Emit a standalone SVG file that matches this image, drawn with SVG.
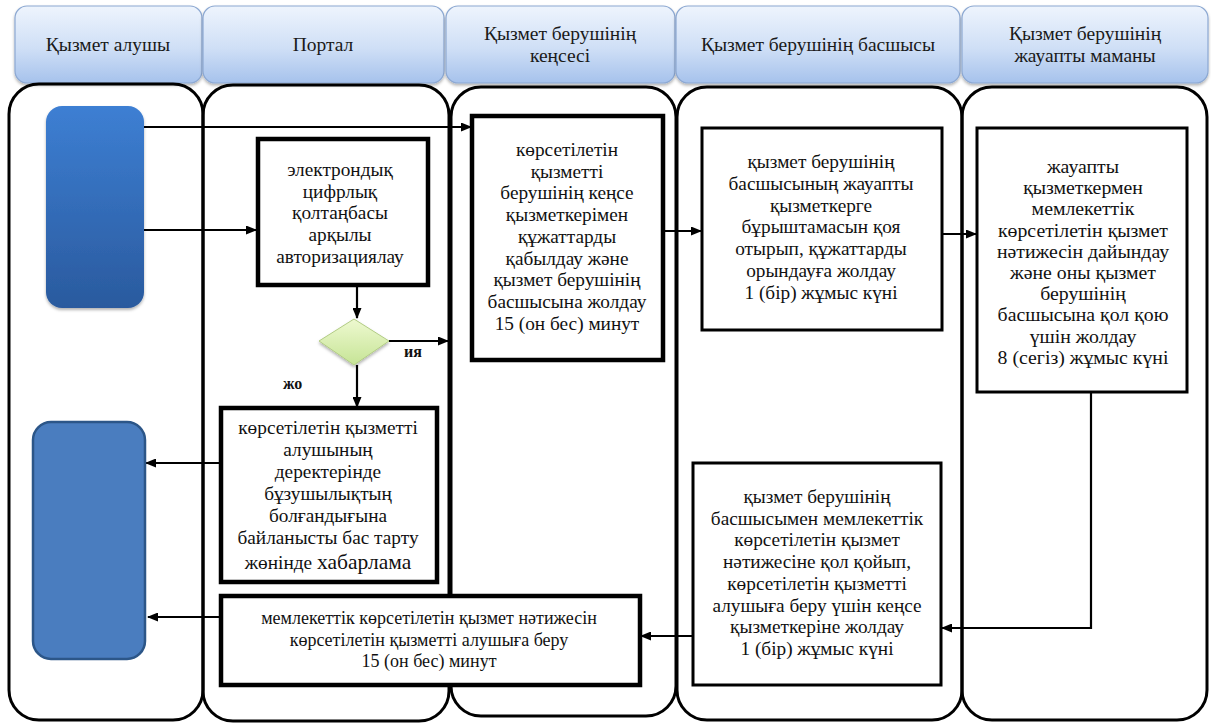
<svg xmlns="http://www.w3.org/2000/svg" width="1211" height="723" viewBox="0 0 1211 723">
<defs>
<linearGradient id="hdr" x1="0" y1="0" x2="0" y2="1">
<stop offset="0" stop-color="#eef4fd"/>
<stop offset="0.55" stop-color="#cfdff6"/>
<stop offset="1" stop-color="#a6c2ec"/>
</linearGradient>
<linearGradient id="blue1" x1="0" y1="0" x2="0" y2="1">
<stop offset="0" stop-color="#3d7fd3"/>
<stop offset="1" stop-color="#2a5a9e"/>
</linearGradient>
<linearGradient id="dia" x1="0" y1="0" x2="0" y2="1">
<stop offset="0" stop-color="#eef9d0"/>
<stop offset="1" stop-color="#c6e496"/>
</linearGradient>
<filter id="sh" x="-10%" y="-10%" width="120%" height="130%">
<feDropShadow dx="0" dy="2" stdDeviation="1.5" flood-color="#000" flood-opacity="0.3"/>
</filter>
<marker id="arr" markerUnits="userSpaceOnUse" markerWidth="11" markerHeight="9" refX="10" refY="4.5" orient="auto">
<path d="M0,0 L11,4.5 L0,9 z" fill="#000"/>
</marker>
</defs>
<style>
.hdr{fill:url(#hdr);stroke:#8ca8d2;stroke-width:1.2;filter:url(#sh)}
.ht{font-family:'Liberation Serif','Times New Roman',serif;font-size:19.5px;fill:#1a1a1a;text-anchor:middle}
.lane{fill:none;stroke:#000;stroke-width:3}
.bx{fill:#fff;stroke:#000;stroke-width:4.5}
.bt{fill:#fff;stroke:#000;stroke-width:3}
.t{font-family:'Liberation Serif','Times New Roman',serif;font-size:19.3px;fill:#111;text-anchor:middle}
.t5{font-size:19.8px}
.t7{font-size:18px}
.lbl{font-family:'Liberation Serif','Times New Roman',serif;font-size:16px;font-weight:bold;fill:#111}
.ca{fill:none;stroke:#000;stroke-width:2.2;marker-end:url(#arr)}
</style>

<g id="headers">
<g id="h1"><rect class="hdr" x="15" y="6" width="187" height="77" rx="12"/><text class="ht" x="108" y="51">Қызмет алушы</text></g>
<g id="h2"><rect class="hdr" x="203" y="6" width="241" height="77" rx="12"/><text class="ht" x="323" y="51">Портал</text></g>
<g id="h3"><rect class="hdr" x="446" y="6" width="229" height="77" rx="12"/><text class="ht" x="560" y="40">Қызмет берушінің</text><text class="ht" x="560" y="62">кеңсесі</text></g>
<g id="h4"><rect class="hdr" x="676" y="6" width="284" height="77" rx="12"/><text class="ht" x="818" y="51">Қызмет берушінің басшысы</text></g>
<g id="h5"><rect class="hdr" x="962" y="6" width="246" height="77" rx="12"/><text class="ht" x="1085" y="40">Қызмет берушінің</text><text class="ht" x="1085" y="62">жауапты маманы</text></g>
</g>

<g id="lanes">
<rect class="lane" x="9" y="84" width="194" height="636" rx="30"/>
<rect class="lane" x="203" y="85" width="246" height="636" rx="30"/>
<rect class="lane" x="451" y="87" width="225" height="629" rx="30"/>
<rect class="lane" x="677" y="87" width="285" height="633" rx="30"/>
<rect class="lane" x="962" y="87" width="245" height="633" rx="30"/>
</g>

<g id="connectors">
<path class="ca" d="M144,127 H471"/>
<path class="ca" d="M144,230 H256"/>
<path class="ca" d="M357,285 V318"/>
<path class="ca" d="M389,341 H448"/>
<path class="ca" d="M357,365 V407"/>
<path class="ca" d="M220,463 H146"/>
<path class="ca" d="M220,617 H148"/>
<path class="ca" d="M663,231 H701"/>
<path class="ca" d="M942,234 H976"/>
<path class="ca" d="M1091,392 V628 H942"/>
<path class="ca" d="M693,636 H641"/>
</g>

<g id="start"><rect x="46" y="106" width="98" height="202" rx="16" fill="url(#blue1)" filter="url(#sh)"/></g>
<g id="end"><rect x="33" y="422" width="112" height="237" rx="18" fill="#4a7dbf" stroke="#2c5688" stroke-width="2.5"/></g>

<g id="auth">
<rect class="bx" x="258" y="139" width="170" height="146"/>
<text class="t" x="340" y="176">электрондық</text>
<text class="t" x="340" y="197.7">цифрлық</text>
<text class="t" x="340" y="219.4">қолтаңбасы</text>
<text class="t" x="340" y="241.1">арқылы</text>
<text class="t" x="340" y="262.8">авторизациялау</text>
</g>

<g id="decision">
<polygon points="354,319 389,341 354,365 319,341" fill="url(#dia)" stroke="#b2cc84" stroke-width="1" filter="url(#sh)"/>
<text class="lbl" x="404" y="357">ия</text>
<text class="lbl" x="283" y="389">жо</text>
</g>

<g id="refuse">
<rect class="bx" x="221" y="408" width="216" height="174"/>
<text class="t" x="328" y="434">көрсетілетін қызметті</text>
<text class="t" x="328" y="456">алушының</text>
<text class="t" x="328" y="478">деректерінде</text>
<text class="t" x="328" y="500">бұзушылықтың</text>
<text class="t" x="328" y="522">болғандығына</text>
<text class="t" x="328" y="544">байланысты бас тарту</text>
<text class="t" x="328" y="569">жөнінде <tspan font-size="21.5">хабарлама</tspan></text>
</g>

<g id="office">
<rect class="bx" x="472" y="116" width="191" height="244"/>
<text class="t" x="567" y="156">көрсетілетін</text>
<text class="t" x="567" y="177.7">қызметті</text>
<text class="t" x="567" y="199.4">берушінің кеңсе</text>
<text class="t" x="567" y="221.1">қызметкерімен</text>
<text class="t" x="567" y="242.8">құжаттарды</text>
<text class="t" x="567" y="264.5">қабылдау және</text>
<text class="t" x="567" y="286.2">қызмет берушінің</text>
<text class="t" x="567" y="307.9">басшысына жолдау</text>
<text class="t" x="567" y="329.6">15 (он бес) минут</text>
</g>

<g id="head">
<rect class="bt" x="702" y="128" width="240" height="202"/>
<text class="t" x="821" y="168">қызмет берушінің</text>
<text class="t" x="821" y="189.8">басшысының жауапты</text>
<text class="t" x="821" y="211.6">қызметкерге</text>
<text class="t" x="821" y="233.4">бұрыштамасын қоя</text>
<text class="t" x="821" y="255.2">отырып, құжаттарды</text>
<text class="t" x="821" y="277">орындауға жолдау</text>
<text class="t" x="821" y="298.8">1 (бір) жұмыс күні</text>
</g>

<g id="specialist">
<rect class="bt" x="977" y="128" width="210" height="264"/>
<text class="t t5" x="1083" y="173">жауапты</text>
<text class="t t5" x="1083" y="194.2">қызметкермен</text>
<text class="t t5" x="1083" y="215.4">мемлекеттік</text>
<text class="t t5" x="1083" y="236.6">көрсетілетін қызмет</text>
<text class="t t5" x="1083" y="257.8">нәтижесін дайындау</text>
<text class="t t5" x="1083" y="279">және оны қызмет</text>
<text class="t t5" x="1083" y="300.2">берушінің</text>
<text class="t t5" x="1083" y="321.4">басшысына қол қою</text>
<text class="t t5" x="1083" y="342.6">үшін жолдау</text>
<text class="t t5" x="1083" y="363.8">8 (сегіз) жұмыс күні</text>
</g>

<g id="sign">
<rect class="bt" x="693" y="463" width="248" height="222"/>
<text class="t" x="817" y="503">қызмет берушінің</text>
<text class="t" x="817" y="524.7">басшысымен мемлекеттік</text>
<text class="t" x="817" y="546.4">көрсетілетін қызмет</text>
<text class="t" x="817" y="568.1">нәтижесіне қол қойып,</text>
<text class="t" x="817" y="589.8">көрсетілетін қызметті</text>
<text class="t" x="817" y="611.5">алушыға беру үшін кеңсе</text>
<text class="t" x="817" y="633.2">қызметкеріне жолдау</text>
<text class="t" x="817" y="654.9">1 (бір) жұмыс күні</text>
</g>

<g id="deliver">
<rect class="bx" x="221" y="596" width="419" height="89"/>
<text class="t t7" x="429" y="624">мемлекеттік көрсетілетін қызмет нәтижесін</text>
<text class="t t7" x="429" y="646">көрсетілетін қызметті алушыға беру</text>
<text class="t t7" x="429" y="667">15 (он бес) минут</text>
</g>
</svg>
